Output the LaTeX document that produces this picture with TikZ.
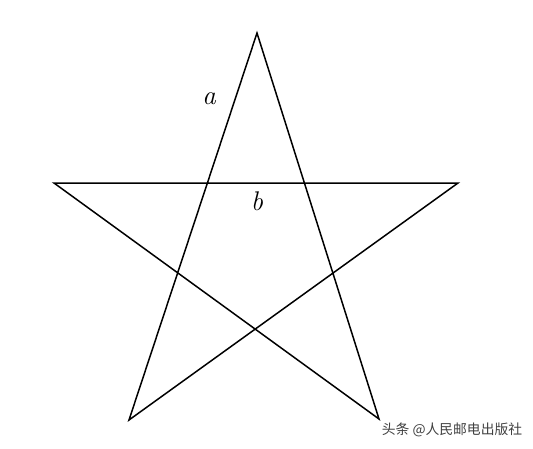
\documentclass[tikz,border=0pt]{standalone}
\usepackage{fontspec}
\newfontfamily\cjk{Noto Sans CJK SC}
\begin{document}
\begin{tikzpicture}[x=1pt,y=-1pt,
  edge/.style={line width=1.5pt,line join=miter,black},
  lbl/.style={font=\fontsize{27}{27}\selectfont\itshape},
  wm/.style={font=\cjk\fontsize{13.8}{15}\selectfont,text=black!75,inner sep=0pt}]
\useasboundingbox (0,0) rectangle (533,448);
\coordinate (T) at (257,33);
\coordinate (L) at (54,183);
\coordinate (R) at (458,183);
\coordinate (BL) at (129,420);
\coordinate (BR) at (379,419);
\draw[edge] (T) -- (BL) -- (R) -- (L) -- (BR) -- cycle;
\node[lbl] (a) at (209,99) {a};
\node[lbl] (b) at (257,201) {b};
\node[wm] (w) at (452,430) {头条 @人民邮电出版社};
\end{tikzpicture}
\end{document}
